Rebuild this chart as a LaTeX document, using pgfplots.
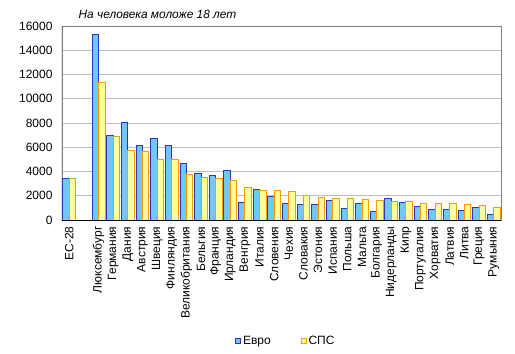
\documentclass[border=0pt]{standalone}
\usepackage{pgfplots}
\pgfplotsset{compat=1.18}
\usepackage{pgfplotstable}
\usepackage{fontspec}
\setmainfont{Liberation Sans}
\definecolor{euroFill}{HTML}{70C8F8}
\definecolor{euroLine}{HTML}{3333BB}
\definecolor{spsFill}{HTML}{FFFF99}
\definecolor{spsLine}{HTML}{FF9900}
\pgfplotstableread{
x blue yellow
0 3450 3450
2 15340 11380
3 6980 6900
4 8055 5745
5 6160 5660
6 6735 5000
7 6160 5000
8 4675 3795
9 3850 3520
10 3684 3436
11 4096 3270
12 1485 2694
13 2530 2450
14 1950 2450
15 1375 2365
16 1290 2035
17 1290 1870
18 1620 1790
19 960 1790
20 1375 1705
21 715 1620
22 1790 1540
23 1460 1540
24 1130 1375
25 880 1375
26 880 1375
27 800 1290
28 1045 1210
29 470 1045
}\datatable
\begin{document}
\begin{tikzpicture}[x=1pt,y=1pt]
\path[use as bounding box] (0,0) rectangle (515,354);
\node[font=\fontsize{11.9}{13}\selectfont\itshape] at (157.5,340) {На человека моложе 18 лет};
\begin{axis}[
  at={(62pt,134pt)}, anchor=south west,
  scale only axis, width=439pt, height=194pt,
  ybar=0pt, bar width=6.4pt,
  xmin=-0.5, xmax=29.5, ymin=0, ymax=16000,
  ytick={0,2000,...,16000},
  xtick={0,2,3,4,5,6,7,8,9,10,11,12,13,14,15,16,17,18,19,20,21,22,23,24,25,26,27,28,29},
  xticklabels={ЕС-28,Люксембург,Германия,Дания,Австрия,Швеция,Финляндия,Великобритания,Бельгия,Франция,Ирландия,Венгрия,Италия,Словения,Чехия,Словакия,Эстония,Испания,Польша,Мальта,Болгария,Нидерланды,Кипр,Португалия,Хорватия,Латвия,Литва,Греция,Румыния},
  major tick length=0pt,
  tick label style={font=\fontsize{12}{13}\selectfont},
  /pgf/number format/assume math mode=true,
  /pgf/number format/1000 sep={},
  scaled y ticks=false,
  xticklabel style={rotate=90, anchor=east},
  xticklabel shift=3pt,
  yticklabel shift=6pt,
  ymajorgrids, grid style={draw=black!25, line width=0.8pt},
  axis line style={draw=black!50, line width=0.8pt},
  legend style={at={(0.51,-0.624)}, anchor=center, draw=none, legend columns=2,
    font=\fontsize{12}{13}\selectfont, /tikz/every even column/.append style={column sep=28pt}},
  legend image code/.code={\draw[#1, line width=0.8pt] (0pt,-2.5pt) rectangle (5pt,2.5pt);},
]
\addplot[fill=euroFill, draw=euroLine, line width=0.9pt] table[x=x, y=blue] {\datatable};
\addlegendentry{Евро}
\addplot[fill=spsFill, draw=spsLine, line width=0.9pt] table[x=x, y=yellow] {\datatable};
\addlegendentry{СПС}
\draw[black, line width=1pt] (rel axis cs:0,1) -- (rel axis cs:0,0) -- (rel axis cs:1,0);
\end{axis}
\end{tikzpicture}
\end{document}
